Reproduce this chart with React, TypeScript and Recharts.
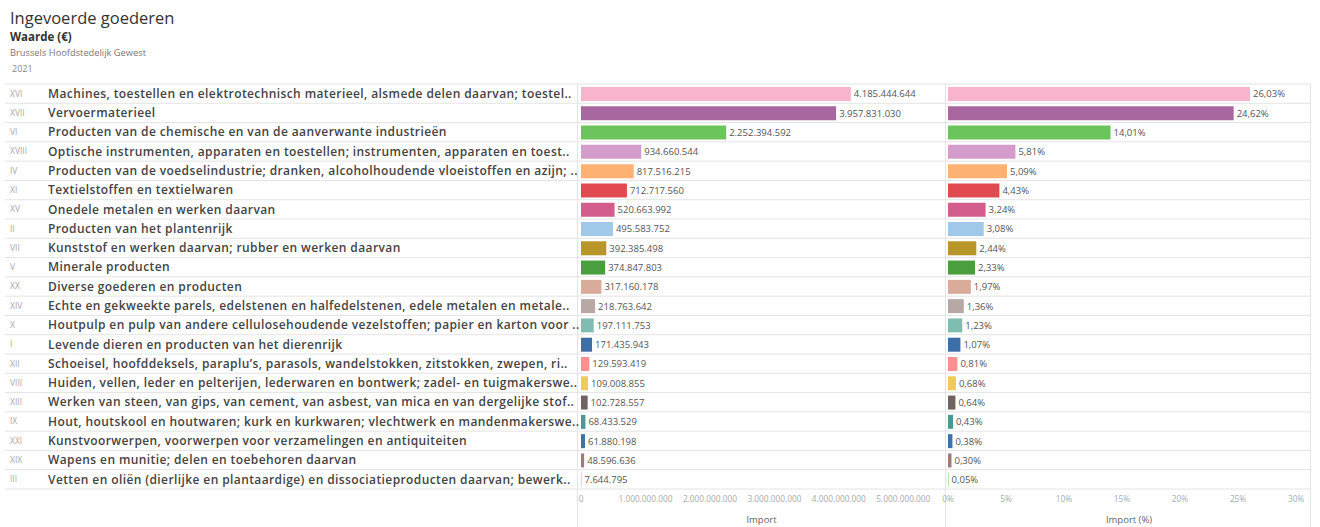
import React from 'react';
import { BarChart, Bar, XAxis, YAxis, LabelList, Cell } from 'recharts';

const codes = ['XVI', 'XVII', 'VI', 'XVIII', 'IV', 'XI', 'XV', 'II', 'VII', 'V', 'XX', 'XIV', 'X', 'I', 'XII', 'VIII', 'XIII', 'IX', 'XXI', 'XIX', 'III'];

const labels = [
  'Machines, toestellen en elektrotechnisch materieel, alsmede delen daarvan; toestel..',
  'Vervoermaterieel',
  'Producten van de chemische en van de aanverwante industrieën',
  'Optische instrumenten, apparaten en toestellen; instrumenten, apparaten en toest..',
  'Producten van de voedselindustrie; dranken, alcoholhoudende vloeistoffen en azijn; ..',
  'Textielstoffen en textielwaren',
  'Onedele metalen en werken daarvan',
  'Producten van het plantenrijk',
  'Kunststof en werken daarvan; rubber en werken daarvan',
  'Minerale producten',
  'Diverse goederen en producten',
  'Echte en gekweekte parels, edelstenen en halfedelstenen, edele metalen en metale..',
  'Houtpulp en pulp van andere cellulosehoudende vezelstoffen; papier en karton voor ..',
  'Levende dieren en producten van het dierenrijk',
  'Schoeisel, hoofddeksels, paraplu\u2019s, parasols, wandelstokken, zitstokken, zwepen, ri..',
  'Huiden, vellen, leder en pelterijen, lederwaren en bontwerk; zadel- en tuigmakerswe..',
  'Werken van steen, van gips, van cement, van asbest, van mica en van dergelijke stof..',
  'Hout, houtskool en houtwaren; kurk en kurkwaren; vlechtwerk en mandenmakerswe..',
  'Kunstvoorwerpen, voorwerpen voor verzamelingen en antiquiteiten',
  'Wapens en munitie; delen en toebehoren daarvan',
  'Vetten en oliën (dierlijke en plantaardige) en dissociatieproducten daarvan; bewerk..',
];

const importValues = [4185444644, 3957831030, 2252394592, 934660544, 817516215, 712717560, 520663992, 495583752, 392385498, 374847803, 317160178, 218763642, 197111753, 171435943, 129593419, 109008855, 102728557, 68433529, 61880198, 48596636, 7644795];

const importShares = [26.03, 24.62, 14.01, 5.81, 5.09, 4.43, 3.24, 3.08, 2.44, 2.33, 1.97, 1.36, 1.23, 1.07, 0.81, 0.68, 0.64, 0.43, 0.38, 0.30, 0.05];

const colors = ['#f8b4cc', '#a8679e', '#6cc55c', '#d49ccb', '#fdb173', '#e04a50', '#d35d8c', '#a0c8e8', '#b8962a', '#4a9e3e', '#d9ab9b', '#b7a8a6', '#7fbcb2', '#3e6ea8', '#ff9090', '#f2c95c', '#6f6462', '#4a9a94', '#3f72a6', '#9d7d75', '#8cd17d'];

const valueTicks = [0, 1000000000, 2000000000, 3000000000, 4000000000, 5000000000];
const shareTicks = [0, 5, 10, 15, 20, 25, 30];

const data = labels.map((label, i) => ({
  label,
  code: codes[i],
  value: importValues[i],
  share: importShares[i],
  color: colors[i],
}));

const H = 527;
const TOP = 84;
const AXIS_H = 38;
const ROW_H = (H - TOP - AXIS_H) / data.length;
const FONT = '"Open Sans", "Noto Sans", sans-serif';
const GRID = '#e4e4e4';
const C2_LEFT = 925;
const C2_AXIS_W = 23;

const fmtNum = (v: any) => Math.round(Number(v)).toString().replace(/\B(?=(\d{3})+(?!\d))/g, '.');
const fmtPct = (v: any) => Number(v).toFixed(2).replace('.', ',') + '%';

const LeftTick = (props: any) => {
  const { y, index } = props;
  const d = data[index];
  if (!d) return null;
  const top = y - ROW_H / 2;
  const bottom = y + ROW_H / 2;
  return (
    <g>
      {index === 0 && <line x1={5} x2={945} y1={top} y2={top} stroke={GRID} />}
      <line x1={5} x2={945} y1={bottom} y2={bottom} stroke={GRID} />
      <text x={10} y={y} dy="0.35em" fontSize={8.5} fill="#aaa" fontFamily={FONT}>{d.code}</text>
      <text x={48} y={y} dy="0.35em" fontSize={12} fontWeight={600} letterSpacing={0.4} fill="#444" fontFamily={FONT}>{d.label}</text>
    </g>
  );
};

const RightTick = (props: any) => {
  const { y, index } = props;
  const top = y - ROW_H / 2;
  const bottom = y + ROW_H / 2;
  const x1 = 945 - C2_LEFT;
  const x2 = 1310 - C2_LEFT;
  return (
    <g>
      {index === 0 && <line x1={x1} x2={x2} y1={top} y2={top} stroke={GRID} />}
      <line x1={x1} x2={x2} y1={bottom} y2={bottom} stroke={GRID} />
    </g>
  );
};

const vline = (left: number) => (
  <div style={{ position: 'absolute', left, top: TOP, width: 1, height: H - TOP, background: GRID }} />
);

export default function App() {
  return (
    <div style={{ position: 'absolute', left: 0, top: 0, width: 1320, height: H, background: '#fff', fontFamily: FONT, overflow: 'hidden' }}>
      <svg width={400} height={80} style={{ position: 'absolute', left: 0, top: 0 }}>
        <text x={10} y={24} fontSize={16.5} fill="#333" fontFamily={FONT}>Ingevoerde goederen</text>
        <text x={10} y={41} fontSize={11.5} fontWeight="bold" fill="#333" fontFamily={FONT}>Waarde (€)</text>
        <text x={10} y={56} fontSize={9.3} fill="#777" fontFamily={FONT}>Brussels Hoofdstedelijk Gewest</text>
        <text x={12} y={72} fontSize={9} fill="#888" fontFamily={FONT}>2021</text>
      </svg>
      {vline(577)}
      {vline(945)}
      {vline(1310)}
      <div style={{ position: 'absolute', left: 0, top: 0 }}>
        <BarChart
          width={945}
          height={H}
          data={data}
          layout="vertical"
          margin={{ top: TOP, right: 3, bottom: 0, left: 0 }}
          style={{ fontFamily: FONT }}
        >
          <XAxis
            type="number"
            domain={[0, 5600000000]}
            ticks={valueTicks}
            interval={0}
            tickFormatter={fmtNum}
            axisLine={false}
            tickLine={false}
            tickSize={5}
            height={AXIS_H}
            tick={{ fontSize: 8.3, fill: '#aaa' }}
            label={{ value: 'Import', position: 'insideBottom', offset: 4, fill: '#666', fontSize: 9.5 }}
          />
          <YAxis
            type="category"
            dataKey="label"
            width={581}
            axisLine={false}
            tickLine={false}
            interval={0}
            tick={<LeftTick />}
          />
          <Bar dataKey="value" barSize={14} isAnimationActive={false}>
            {data.map((d, i) => (
              <Cell key={i} fill={d.color} />
            ))}
            <LabelList dataKey="value" position="right" offset={3} formatter={fmtNum} fontSize={9.5} fill="#555" />
          </Bar>
        </BarChart>
      </div>
      <div style={{ position: 'absolute', left: C2_LEFT, top: 0 }}>
        <BarChart
          width={1320 - C2_LEFT}
          height={H}
          data={data}
          layout="vertical"
          margin={{ top: TOP, right: 10, bottom: 0, left: 0 }}
          style={{ fontFamily: FONT }}
        >
          <XAxis
            type="number"
            domain={[0, 31.2]}
            ticks={shareTicks}
            interval={0}
            tickFormatter={(v: any) => `${v}%`}
            axisLine={false}
            tickLine={false}
            tickSize={5}
            height={AXIS_H}
            tick={{ fontSize: 8.3, fill: '#aaa' }}
            label={{ value: 'Import (%)', position: 'insideBottom', offset: 4, fill: '#666', fontSize: 9.5 }}
          />
          <YAxis
            type="category"
            dataKey="label"
            width={C2_AXIS_W}
            axisLine={false}
            tickLine={false}
            interval={0}
            tick={<RightTick />}
          />
          <Bar dataKey="share" barSize={14} isAnimationActive={false}>
            {data.map((d, i) => (
              <Cell key={i} fill={d.color} />
            ))}
            <LabelList dataKey="share" position="right" offset={3} formatter={fmtPct} fontSize={9.5} fill="#555" />
          </Bar>
        </BarChart>
      </div>
    </div>
  );
}
